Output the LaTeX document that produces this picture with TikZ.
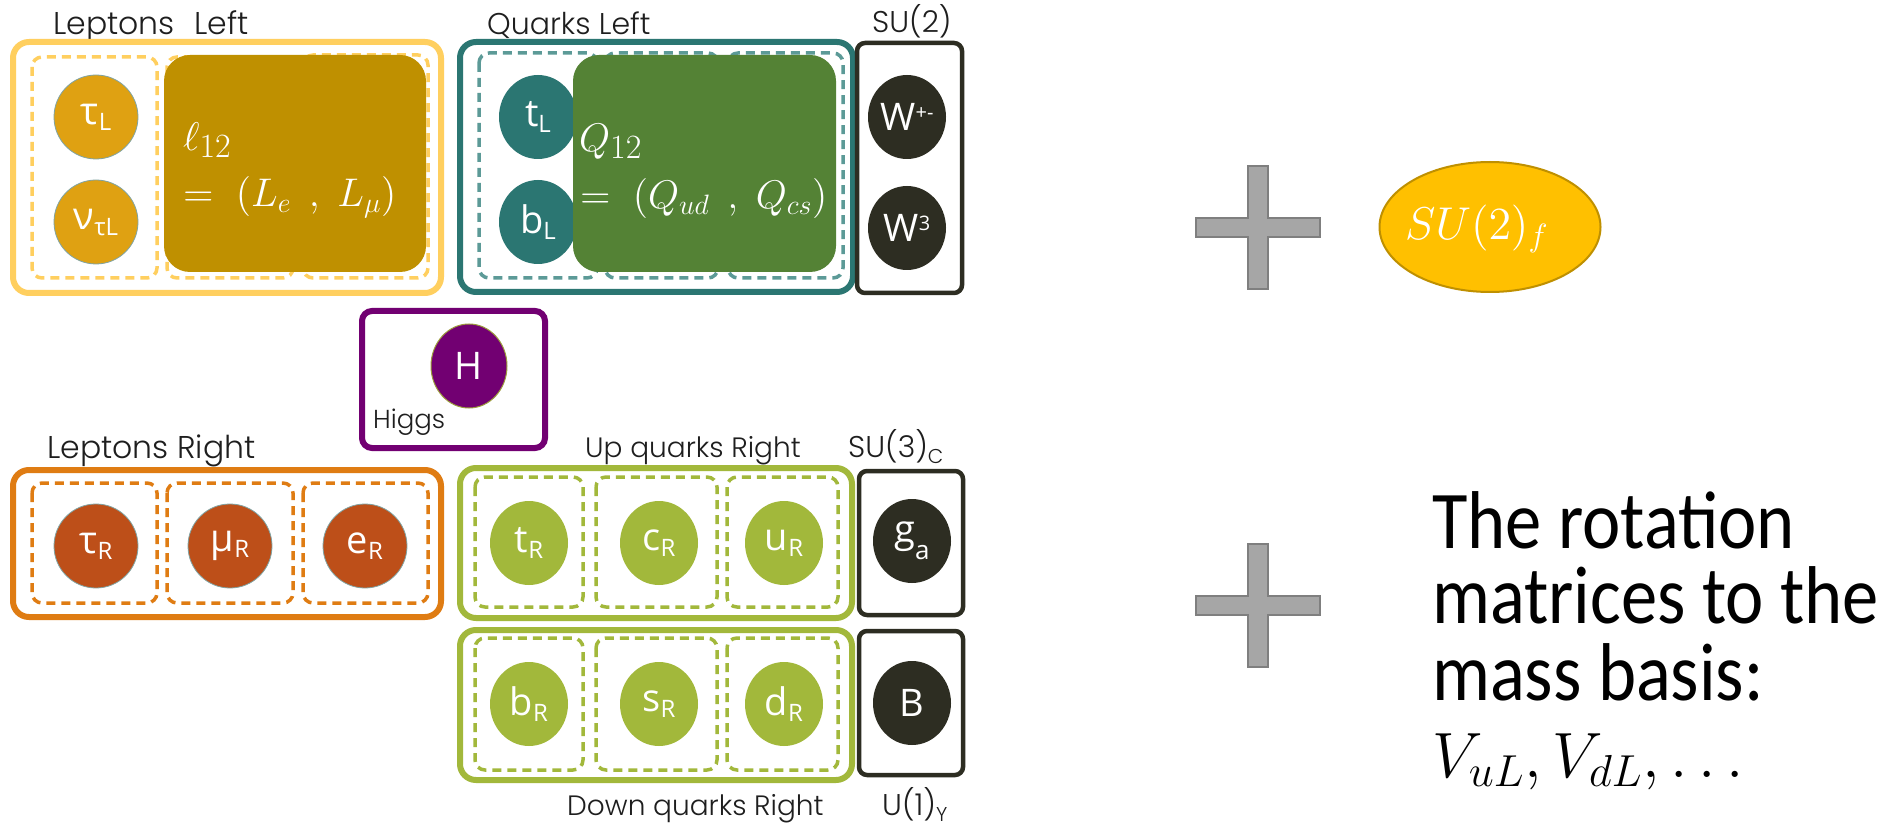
\documentclass[tikz,border=0pt]{standalone}
\usepackage{fontspec}
\newfontfamily\titlefont{Poppins Light}
\newfontfamily\partfont{Open Sans}
\newfontfamily\bodyfont{Carlito}
\usetikzlibrary{shapes.geometric}

% freely scalable Computer Modern math fonts
\DeclareFontShape{OML}{cmm}{m}{it}{<->cmmi12}{}
\DeclareFontShape{OMS}{cmsy}{m}{n}{<->cmsy10}{}
\DeclareFontShape{OT1}{cmr}{m}{n}{<->cmr12}{}
\DeclareFontShape{OMX}{cmex}{m}{n}{<->cmex10}{}

\definecolor{lepL}{HTML}{FFCF5F}
\definecolor{lepLfill}{HTML}{DFA112}
\definecolor{mustard}{HTML}{BF9000}
\definecolor{qteal}{HTML}{2B7672}
\definecolor{qtealdash}{HTML}{5C9A97}
\definecolor{qgreen}{HTML}{548235}
\definecolor{gauge}{HTML}{2D2D22}
\definecolor{higgs}{HTML}{720072}
\definecolor{lepR}{HTML}{DF7C13}
\definecolor{lepRfill}{HTML}{BD4F19}
\definecolor{lime}{HTML}{A2B83B}
\definecolor{plusfill}{HTML}{A6A6A6}
\definecolor{plusline}{HTML}{7F7F7F}
\definecolor{flav}{HTML}{FFC000}
\definecolor{flavline}{HTML}{BF9000}
\definecolor{ink}{HTML}{1E1E1E}
\definecolor{rim}{HTML}{7FA3A3}
\definecolor{hrim}{HTML}{9C9C3C}

% particle label: symbol with lowered / raised index
\newcommand\plab[2]{#1\raisebox{-6pt}{\fontsize{24}{24}\selectfont #2}}
\newcommand\psup[2]{#1\raisebox{11pt}{\fontsize{20}{20}\selectfont #2}}
% doublet index set a little larger than a script
\newcommand\dindex[1]{\raisebox{-7pt}{\fontsize{34}{34}\selectfont #1}}

\tikzset{
  outerbox/.style={line width=6pt, rounded corners=16pt},
  subbox/.style={line width=3.5pt, dash pattern=on 9pt off 6pt, rounded corners=10pt},
  gaugebox/.style={line width=4.5pt, draw=gauge, rounded corners=8pt},
  partlabel/.style={text=white, inner sep=0pt, font=\partfont\fontsize{38}{40}\selectfont},
  lepton/.style={partlabel, circle, minimum size=84pt, draw=rim, line width=0.8pt},
  quark/.style={partlabel, ellipse, minimum width=78pt, minimum height=84pt},
  title/.style={anchor=base west, inner sep=0pt, text=ink, font=\titlefont\fontsize{30}{32}\selectfont},
  mathlabel/.style={anchor=base west, inner sep=0pt, text=white, font=\fontsize{40}{42}\selectfont},
  bodytext/.style={anchor=base west, inner sep=0pt, text=black, xscale=0.885, transform shape, font=\bodyfont\fontsize{82}{90}\selectfont},
  plusstyle/.style={fill=plusfill, draw=plusline, line width=2pt},
  plussign/.pic={\draw[plusstyle] (-10,-61.5) -- (10,-61.5) -- (10,-9.5) -- (62,-9.5) -- (62,9.5) -- (10,9.5) -- (10,61.5) -- (-10,61.5) -- (-10,9.5) -- (-62,9.5) -- (-62,-9.5) -- (-10,-9.5) -- cycle;}
}

\begin{document}
\begin{tikzpicture}[x=1pt, y=-1pt]
\useasboundingbox (0,0) rectangle (1890,826);
\fill[white] (0,0) rectangle (1890,826);

% ---------- left-handed leptons ----------
\node[title, font=\titlefont\fontsize{31.5}{33}\selectfont] (tLL) at (53,35) {Leptons\hspace{20pt}Left};
\draw[outerbox, draw=lepL] (13,42) rectangle (441,293);
\draw[subbox, draw=lepL] (32,57) rectangle (157,278);
\draw[subbox, draw=lepL] (167,57) rectangle (293,278);
\draw[subbox, draw=lepL] (303,55) rectangle (428,278);
\node[lepton, fill=lepLfill] (tauL) at (96,117) {\plab{τ}{L}};
\node[lepton, fill=lepLfill] (nutauL) at (96,222) {\plab{ν}{τL}};
\fill[mustard, rounded corners=26pt] (164,55) rectangle (426,272);
\node[mathlabel] (l12) at (183,151) {$\ell$\dindex{12}};
\node[mathlabel] (l12b) at (183,207) {$=\;(L_e\;\,,\;L_\mu)$};

% ---------- left-handed quarks ----------
\node[title] (tQL) at (487,35) {Quarks Left};
\draw[outerbox, draw=qteal] (460,42) rectangle (853,292);
\draw[subbox, draw=qtealdash] (479,53) rectangle (597,278);
\draw[subbox, draw=qtealdash] (605,53) rectangle (718,278);
\draw[subbox, draw=qtealdash] (728,53) rectangle (843,278);
\node[quark, fill=qteal] (topL) at (538,117) {\plab{t}{L}};
\node[quark, fill=qteal] (botL) at (538,222) {\plab{b}{L}};
\fill[qgreen, rounded corners=26pt] (573,55) rectangle (836,272);
\node[mathlabel] (q12) at (579,152) {$Q$\dindex{12}};
\node[mathlabel] (q12b) at (580,209) {$=\;(Q_{ud}\;\,,\;Q_{cs})$};

% ---------- SU(2) gauge bosons ----------
\node[title] (tSU2) at (872,33) {SU(2)};
\draw[gaugebox] (857,43) rectangle (962,293);
\node[quark, fill=gauge] (Wpm) at (907,117) {\psup{W}{+-}};
\node[quark, fill=gauge] (W3) at (907,228) {\psup{W}{3}};

% ---------- Higgs ----------
\draw[line width=6pt, draw=higgs, rounded corners=10pt] (362,311) rectangle (545,448);
\node[quark, fill=higgs, draw=hrim, line width=1pt, minimum width=76pt] (H) at (469,366) {H};
\node[title, font=\titlefont\fontsize{26}{28}\selectfont] (tH) at (373,428) {Higgs};

% ---------- right-handed leptons ----------
\node[title, font=\titlefont\fontsize{31.5}{33}\selectfont] (tLR) at (47,458) {Leptons Right};
\draw[outerbox, draw=lepR] (13,470) rectangle (441,617);
\draw[subbox, draw=lepR] (32,483) rectangle (157,603);
\draw[subbox, draw=lepR] (167,483) rectangle (293,603);
\draw[subbox, draw=lepR] (303,483) rectangle (428,603);
\node[lepton, fill=lepRfill] (tauR) at (96,546) {\plab{τ}{R}};
\node[lepton, fill=lepRfill] (muR) at (230,546) {\plab{μ}{R}};
\node[lepton, fill=lepRfill] (eR) at (365,546) {\plab{e}{R}};

% ---------- right-handed up quarks ----------
\node[title, font=\titlefont\fontsize{28}{30}\selectfont] (tUR) at (585,457) {Up quarks Right};
\draw[outerbox, draw=lime] (460,468) rectangle (852,618);
\draw[subbox, draw=lime] (475,477) rectangle (583,607);
\draw[subbox, draw=lime] (596,477) rectangle (717,607);
\draw[subbox, draw=lime] (727,477) rectangle (838,607);
\node[quark, fill=lime] (topR) at (529,543) {\plab{t}{R}};
\node[quark, fill=lime] (chR) at (659,543) {\plab{c}{R}};
\node[quark, fill=lime] (upR) at (784,543) {\plab{u}{R}};

% ---------- right-handed down quarks ----------
\draw[outerbox, draw=lime] (460,630) rectangle (852,780);
\draw[subbox, draw=lime] (475,638) rectangle (583,770);
\draw[subbox, draw=lime] (596,638) rectangle (717,770);
\draw[subbox, draw=lime] (727,638) rectangle (838,770);
\node[quark, fill=lime] (botR) at (529,704) {\plab{b}{R}};
\node[quark, fill=lime] (stR) at (659,704) {\plab{s}{R}};
\node[quark, fill=lime] (dnR) at (784,704) {\plab{d}{R}};
\node[title, font=\titlefont\fontsize{28}{30}\selectfont] (tDR) at (567,815) {Down quarks Right};

% ---------- SU(3) and U(1) gauge bosons ----------
\node[title] (tSU3) at (848,457) {SU(3)\raisebox{-6pt}{\fontsize{20}{20}\selectfont C}};
\draw[gaugebox] (859,471) rectangle (963,615);
\node[quark, fill=gauge] (glu) at (912,541) {g\raisebox{-17pt}{\fontsize{26}{26}\selectfont a}};
\draw[gaugebox] (859,631) rectangle (963,775);
\node[quark, fill=gauge] (Bb) at (912,703) {B};
\node[title] (tU1) at (882,815) {U(1)\raisebox{-6pt}{\fontsize{20}{20}\selectfont Y}};

% ---------- flavour symmetry ----------
\pic at (1258,227.5) {plussign};
\node[ellipse, fill=flav, draw=flavline, line width=2pt, minimum width=221pt, minimum height=130pt, inner sep=0pt] (flavour) at (1490,227) {};
\node[anchor=base west, inner sep=0pt, text=white, scale=1.15, transform shape, font=\fontsize{40}{42}\selectfont] (flavlab) at (1405,240) {$SU(2)_f$};

% ---------- rotation matrices ----------
\pic at (1258,605) {plussign};
\node[bodytext] (r1) at (1432,548) {The rotation};
\node[bodytext] (r2) at (1432,623) {matrices to the};
\node[bodytext] (r3) at (1432,700) {mass basis:};
\node[anchor=base west, inner sep=0pt, scale=1.6, transform shape, font=\fontsize{40}{42}\selectfont] (r4) at (1432,777) {$V_{uL}, V_{dL}, \ldots$};
\end{tikzpicture}
\end{document}
